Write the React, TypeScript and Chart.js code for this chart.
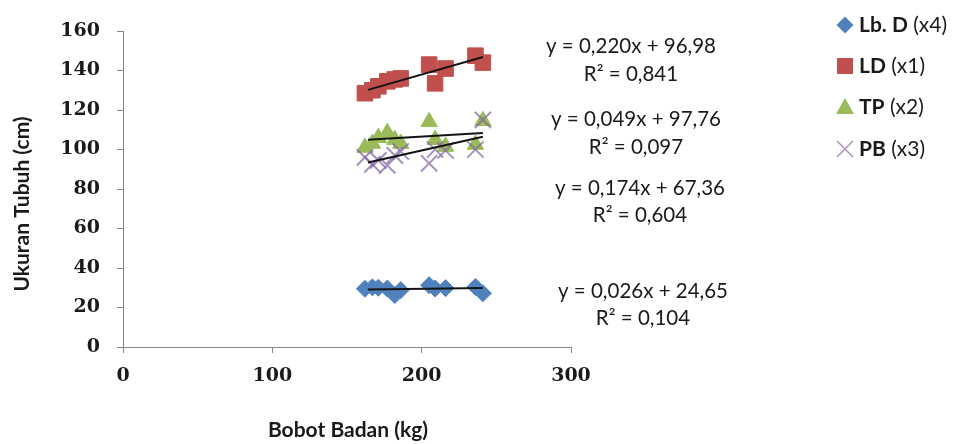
import React, { useEffect, useRef } from 'react';
import { Chart, registerables } from 'chart.js';

Chart.register(...registerables);

// ---- data ----
const bobotBadan = [162, 167, 171, 177, 182, 186, 205, 209, 216, 236, 241];
const lbD = [29.5, 30.2, 30, 29.6, 26.3, 28.8, 31.3, 29.6, 29.8, 30.4, 27.2];
const ld = [128.5, 130, 132, 134.5, 135.5, 136, 143, 133.5, 141, 147.5, 144];
const tp = [101, 103, 106, 108.5, 105, 103, 114, 105, 101.5, 102.5, 114.5];
const pb = [96, 92.5, 94.5, 92, 97, 99, 93, 100, 99.5, 100, 115];

const trendX = [164, 241];
const trendLbD = [29.1, 29.9];
const trendLD = [130.2, 146.8];
const trendTP = [104.9, 108.3];
const trendPB = [93.4, 106.5];

const seriesNames = ['Lb. D', 'LD', 'TP', 'PB'];
const seriesSuffix = [' (x4)', ' (x1)', ' (x2)', ' (x3)'];
const seriesColors = ['#4F81BD', '#C0504D', '#9BBB59', 'rgba(128,100,162,0.7)'];

const equationLines = ['y = 0,220x + 96,98', 'y = 0,049x + 97,76', 'y = 0,174x + 67,36', 'y = 0,026x + 24,65'];
const r2Lines = ['R² = 0,841', 'R² = 0,097', 'R² = 0,604', 'R² = 0,104'];

const xTitle = 'Bobot Badan (kg)';
const yTitle = 'Ukuran Tubuh (cm)';

const X_MIN = 0, X_MAX = 300, X_STEP = 100;
const Y_MIN = 0, Y_MAX = 160, Y_STEP = 20;

const toPoints = (xs: number[], ys: number[]) => xs.map((x, i) => ({ x, y: ys[i] }));

const TEXT = '#1a1a1a';
const AXIS = '#868686';

const annotate = {
  id: 'annotate',
  afterDraw(chart: any) {
    const ctx = chart.ctx as CanvasRenderingContext2D;
    ctx.save();
    ctx.fillStyle = TEXT;

    // axis titles
    ctx.font = 'bold 21px Lato';
    ctx.textAlign = 'center';
    ctx.textBaseline = 'alphabetic';
    ctx.fillText(xTitle, 348, 437);
    ctx.save();
    ctx.translate(29, 204);
    ctx.rotate(-Math.PI / 2);
    ctx.fillText(yTitle, 0, 0);
    ctx.restore();

    // trend equations
    const eqCx = [631, 636, 640, 643];
    const eqY1 = [53, 126, 195, 298];
    const eqY2 = [81, 154, 222, 325];
    ctx.font = '20.5px Lato';
    for (let i = 0; i < equationLines.length; i++) {
      ctx.fillText(equationLines[i], eqCx[i], eqY1[i]);
      ctx.fillText(r2Lines[i], eqCx[i], eqY2[i]);
    }

    // legend
    const ly = [25, 66, 107, 149];
    const mx = 845;
    ctx.textAlign = 'left';
    ctx.textBaseline = 'middle';
    for (let i = 0; i < seriesNames.length; i++) {
      const y = ly[i];
      ctx.save();
      if (i === 0) {
        ctx.fillStyle = seriesColors[0];
        ctx.beginPath();
        ctx.moveTo(mx, y - 8.5); ctx.lineTo(mx + 8.5, y); ctx.lineTo(mx, y + 8.5); ctx.lineTo(mx - 8.5, y);
        ctx.closePath(); ctx.fill();
      } else if (i === 1) {
        ctx.fillStyle = seriesColors[1];
        ctx.fillRect(mx - 8, y - 8, 16, 16);
      } else if (i === 2) {
        ctx.fillStyle = seriesColors[2];
        ctx.beginPath();
        ctx.moveTo(mx, y - 9); ctx.lineTo(mx + 9, y + 7); ctx.lineTo(mx - 9, y + 7);
        ctx.closePath(); ctx.fill();
      } else {
        ctx.strokeStyle = seriesColors[3];
        ctx.lineWidth = 1.5;
        ctx.beginPath();
        ctx.moveTo(mx - 8, y - 8); ctx.lineTo(mx + 8, y + 8);
        ctx.moveTo(mx + 8, y - 8); ctx.lineTo(mx - 8, y + 8);
        ctx.stroke();
      }
      ctx.restore();
      ctx.fillStyle = TEXT;
      ctx.font = 'bold 21px Lato';
      ctx.fillText(seriesNames[i], 859, y);
      const w = ctx.measureText(seriesNames[i]).width;
      ctx.font = '21px Lato';
      ctx.fillText(seriesSuffix[i], 859 + w, y);
    }
    ctx.restore();
  },
};

export default function App() {
  const ref = useRef<HTMLCanvasElement | null>(null);

  useEffect(() => {
    if (!ref.current) return;
    const tickFont = { family: 'DejaVu Serif', size: 19, weight: 'bold' as const };
    const trendStyle = {
      showLine: true,
      pointRadius: 0,
      borderColor: '#141414',
      borderWidth: 2,
      fill: false,
      order: 0,
    };
    const chart = new Chart(ref.current, {
      type: 'scatter',
      data: {
        datasets: [
          { label: 'trend LD', data: toPoints(trendX, trendLD), ...trendStyle },
          { label: 'trend TP', data: toPoints(trendX, trendTP), ...trendStyle },
          { label: 'trend PB', data: toPoints(trendX, trendPB), ...trendStyle },
          { label: 'trend Lb. D', data: toPoints(trendX, trendLbD), ...trendStyle },
          {
            label: 'PB (x3)', data: toPoints(bobotBadan, pb), order: 1,
            pointStyle: 'crossRot', pointRadius: 11.5, borderColor: seriesColors[3], backgroundColor: seriesColors[3], borderWidth: 2,
          },
          {
            label: 'TP (x2)', data: toPoints(bobotBadan, tp), order: 2,
            pointStyle: 'triangle', pointRadius: 9.5, borderColor: seriesColors[2], backgroundColor: seriesColors[2], borderWidth: 1,
          },
          {
            label: 'LD (x1)', data: toPoints(bobotBadan, ld), order: 3,
            pointStyle: 'rect', pointRadius: 11, borderColor: seriesColors[1], backgroundColor: seriesColors[1], borderWidth: 1,
          },
          {
            label: 'Lb. D (x4)', data: toPoints(bobotBadan, lbD), order: 4,
            pointStyle: 'rectRot', pointRadius: 8.5, borderColor: seriesColors[0], backgroundColor: seriesColors[0], borderWidth: 1,
          },
        ] as any,
      },
      options: {
        animation: false,
        responsive: true,
        maintainAspectRatio: false,
        events: [],
        layout: { padding: { left: 0, right: 388, top: 31, bottom: 0 } },
        plugins: { legend: { display: false }, tooltip: { enabled: false } },
        scales: {
          x: {
            type: 'linear',
            min: X_MIN, max: X_MAX,
            ticks: { stepSize: X_STEP, font: tickFont, color: TEXT, padding: 12 },
            grid: { drawOnChartArea: false, tickLength: 6, color: AXIS },
            border: { color: AXIS, width: 1 },
            afterFit: (s: any) => { s.height = 97; },
          },
          y: {
            type: 'linear',
            min: Y_MIN, max: Y_MAX,
            ticks: { stepSize: Y_STEP, font: tickFont, color: TEXT, padding: 17 },
            grid: { drawOnChartArea: false, tickLength: 6, color: AXIS },
            border: { color: AXIS, width: 1 },
            afterFit: (s: any) => { s.width = 123; },
          },
        },
      },
      plugins: [annotate],
    });
    return () => chart.destroy();
  }, []);

  return (
    <div style={{ position: 'fixed', left: 0, top: 0, width: 959, height: 444, background: '#fff' }}>
      <canvas ref={ref} />
    </div>
  );
}
